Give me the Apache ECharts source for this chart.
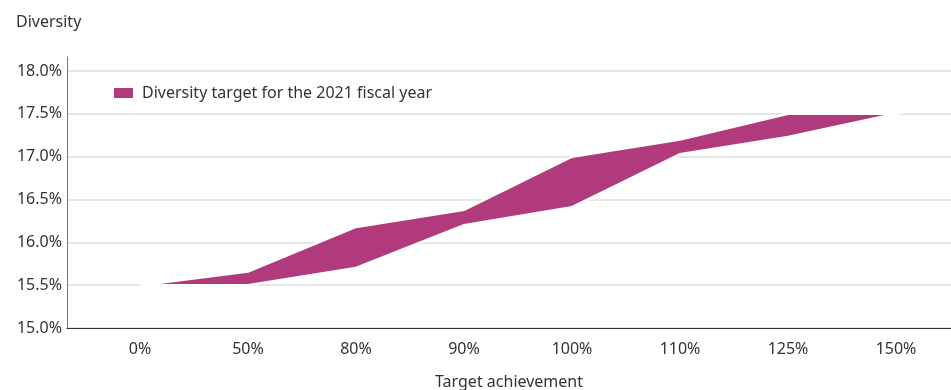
<!DOCTYPE html>
<html>
<head>
<meta charset="utf-8">
<script src="https://cdn.jsdelivr.net/npm/echarts@6/dist/echarts.min.js"></script>
<style>
html,body{margin:0;padding:0;background:#fff;}
#chart{width:951px;height:390px;}
</style>
</head>
<body>
<div id="chart"></div>
<script>
const categories = ['0%', '50%', '80%', '90%', '100%', '110%', '125%', '150%'];
const upperValues = [15.5, 15.66, 16.18, 16.38, 17.0, 17.2, 17.5, 17.5];
const lowerValues = [15.5, 15.5, 15.7, 16.2, 16.41, 17.03, 17.23, 17.5];
const seriesName = 'Diversity target for the 2021 fiscal year';
const yMin = 15.0, yMax = 18.0, yStep = 0.5;

const FONT = 'Noto Sans';
const BAND = '#b03a7b';

const bandData = categories.map((c, i) => [i, upperValues[i], lowerValues[i]]);

function renderBand(params, api) {
  if (params.dataIndex !== 0) return null;
  const pts = [];
  for (let i = 0; i < upperValues.length; i++) pts.push(api.coord([i, upperValues[i]]));
  for (let i = lowerValues.length - 1; i >= 0; i--) pts.push(api.coord([i, lowerValues[i]]));
  return {
    type: 'polygon',
    shape: {points: pts},
    style: {fill: BAND, stroke: '#fff', lineWidth: 2.5, lineJoin: 'miter'}
  };
}

const chart = echarts.init(document.getElementById('chart'), null, {renderer: 'canvas'});
chart.setOption({
  animation: false,
  textStyle: {fontFamily: FONT},
  title: {
    text: 'Diversity', left: 11, top: 9,
    textStyle: {fontFamily: FONT, fontSize: 16, fontWeight: 'normal', color: '#333'}
  },
  legend: {
    data: [{name: seriesName, icon: 'rect', itemStyle: {color: BAND}}],
    left: 114, top: 85, padding: 0,
    itemWidth: 19, itemHeight: 10,
    textStyle: {fontFamily: FONT, fontSize: 16, color: '#333', padding: [0, 0, 0, 4]}
  },
  grid: [
    {left: 67, right: 0, top: 71, bottom: 62, outerBoundsMode: 'none', containLabel: false},
    {left: 67, right: 0, top: 57, bottom: 62, outerBoundsMode: 'none', containLabel: false}
  ],
  xAxis: [
    {
      type: 'value', gridIndex: 0, min: -0.676, max: 7.509,
      axisLine: {show: true, lineStyle: {color: '#333', width: 1}},
      axisTick: {show: false},
      splitLine: {show: false},
      axisLabel: {
        customValues: categories.map((c, i) => i),
        formatter: v => categories[Math.round(v)] ?? '',
        color: '#333', fontSize: 16, fontFamily: FONT, margin: 13
      },
      name: 'Target achievement', nameLocation: 'middle', nameGap: 46,
      nameTextStyle: {fontFamily: FONT, fontSize: 16, color: '#333'}
    },
    {type: 'value', gridIndex: 1, show: false, min: 0, max: 1}
  ],
  yAxis: [
    {
      type: 'value', gridIndex: 0, min: yMin, max: yMax, interval: yStep,
      axisLine: {show: false},
      axisTick: {show: false},
      splitLine: {show: true, lineStyle: {color: '#dcdcdc', width: 1.5}},
      axisLabel: {
        formatter: v => v.toFixed(1) + '%',
        color: '#333', fontSize: 16, fontFamily: FONT, margin: 5
      }
    },
    {
      type: 'value', gridIndex: 1, min: 0, max: 1,
      axisLine: {show: true, lineStyle: {color: '#777', width: 1}},
      axisTick: {show: false}, axisLabel: {show: false}, splitLine: {show: false}
    }
  ],
  series: [
    {
      name: seriesName, type: 'custom', xAxisIndex: 0, yAxisIndex: 0,
      renderItem: renderBand,
      data: bandData,
      encode: {x: 0, y: [1, 2]},
      itemStyle: {color: BAND},
      z: 3
    }
  ]
});
</script>
</body>
</html>
